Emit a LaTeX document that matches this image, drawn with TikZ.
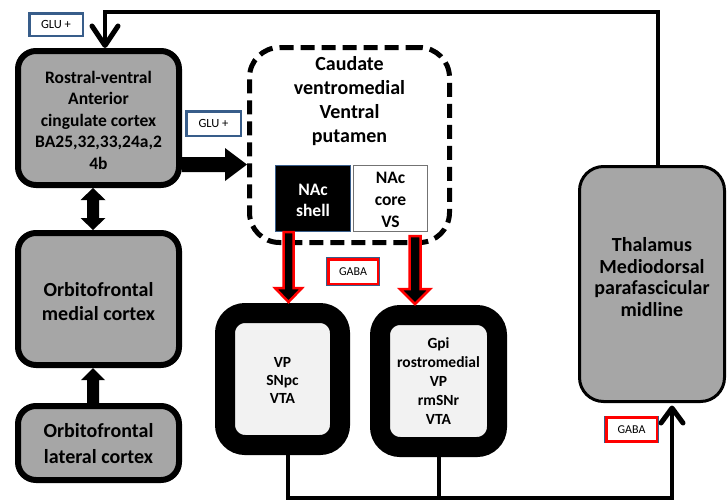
\documentclass[tikz,border=0pt]{standalone}
\usepackage{fontspec}
\setmainfont{Carlito}
\usetikzlibrary{calc}
\definecolor{boxgray}{HTML}{A6A6A6}
\definecolor{lightin}{HTML}{F2F2F2}
\definecolor{labblue}{HTML}{385D8A}
\newcommand\myfs[2]{\fontsize{#1}{#2}\selectfont}
\begin{document}
\begin{tikzpicture}[x=1pt,y=-1pt,
  region/.style={draw=black, line width=6pt, fill=boxgray, rounded corners=18pt, inner sep=0pt},
  txt/.style={align=center, inner sep=0pt},
  cage/.style={draw=black, line width=20pt, fill=lightin, rounded corners=20pt, inner sep=0pt, align=center},
  glulab/.style={draw=labblue, line width=2.5pt, fill=white, inner sep=0pt, font=\myfs{12.5}{14}},
  gabalab/.style={draw=red, line width=2.5pt, fill=white, inner sep=0pt, font=\myfs{12}{14},
     preaction={draw=labblue, line width=3.6pt}},
  blackfill/.style={fill=black, draw=none},
  redarr/.style={fill=black, draw=red, line width=2.5pt, line join=miter},
  fbline/.style={draw=black, line width=4pt, line join=miter},
  vtip/.style={draw=black, line width=5pt, line cap=round, line join=round}]
\useasboundingbox[fill=white] (0,0) rectangle (728,501);

% left column
\node[region, minimum width=161pt, minimum height=134pt] (A) at (98.5,118) {};
\node[txt, font=\myfs{17.5}{21.5}\bfseries] (Atext) at (98.5,120) {Rostral-ventral\\Anterior\\cingulate cortex\\BA25,32,33,24a,2\\4b};
\node[region, minimum width=161pt, minimum height=132pt] (B) at (98.5,299) {};
\node[txt, font=\myfs{20}{24}\bfseries] (Btext) at (98.5,301.5) {Orbitofrontal\\medial cortex};
\node[region, minimum width=161pt, minimum height=74pt] (C) at (98.5,443) {};
\node[txt, font=\myfs{20}{26}\bfseries] (Ctext) at (98.5,443.5) {Orbitofrontal\\lateral cortex};

% striatum
\node[draw=black, line width=5pt, dash pattern=on 14pt off 7pt, rounded corners=30pt,
      minimum width=200pt, minimum height=195pt, inner sep=0pt] (D) at (349.5,145) {};
\node[txt, font=\myfs{20}{24}\bfseries] (Dtext) at (349.5,101.5) {Caudate\\ventromedial\\Ventral\\putamen};
\node[draw=labblue, line width=1pt, fill=black, minimum width=75pt, minimum height=66pt, inner sep=0pt] (shell) at (313,198.5) {};
\node[txt, text=white, font=\myfs{17.5}{21}\bfseries] (shelltext) at (313,200) {NAc\\shell};
\node[draw=black!55, line width=1pt, fill=white, minimum width=74pt, minimum height=66pt, inner sep=0pt] (core) at (390.5,198.5) {};
\node[txt, font=\myfs{17.5}{22}\bfseries] (coretext) at (390.5,200) {NAc\\core\\VS};

% output nuclei
\node[cage, minimum width=115pt, minimum height=132pt] (VP) at (282.5,379) {};
\node[txt, font=\myfs{15.5}{18}\bfseries] (VPtext) at (282.5,380) {VP\\SNpc\\VTA};
\node[cage, minimum width=117pt, minimum height=132pt] (Gpi) at (438.5,381) {};
\node[txt, font=\myfs{15.5}{19}\bfseries] (Gpitext) at (438.5,381.5) {Gpi\\rostromedial\\VP\\rmSNr\\VTA};

% thalamus
\node[draw=black, line width=3pt, fill=boxgray, rounded corners=24pt, minimum width=145pt, minimum height=235pt, inner sep=0pt] (thal) at (652,284) {};
\node[txt, font=\myfs{20}{21.5}\bfseries] (thaltext) at (652,277) {Thalamus\\Mediodorsal\\parafascicular\\midline};

% labels
\node[glulab, minimum width=53.5pt, minimum height=22.5pt] (glu1) at (56,24.5) {GLU +};
\node[glulab, minimum width=54.5pt, minimum height=24.5pt] (glu2) at (213.5,123.5) {GLU +};
\node[gabalab, minimum width=49.5pt, minimum height=24.5pt] (gaba1) at (353,271.5) {GABA};
\node[gabalab, minimum width=50.5pt, minimum height=24pt] (gaba2) at (631.5,429.5) {GABA};

% A -> D
\path[blackfill] let \p1=(A.east |- 0,164.5), \p2=(D.west) in
  (\x1,\y1+7.5pt) -- (\x2-22pt,\y1+7.5pt) -- (\x2-22pt,\y1+16.5pt) -- (\x2,\y1)
  -- (\x2-22pt,\y1-16.5pt) -- (\x2-22pt,\y1-7.5pt) -- (\x1,\y1-7.5pt) -- cycle;
% A <-> B
\path[blackfill] let \p1=($(A.south)+(-5.5,0)$), \p2=($(B.north)+(-5.5,0)$) in
  (\x1,\y1) -- (\x1+12.5pt,\y1-12pt) -- (\x1+6pt,\y1-12pt) -- (\x1+6pt,\y2+12pt)
  -- (\x1+12.5pt,\y2+12pt) -- (\x1,\y2) -- (\x1-12.5pt,\y2+12pt) -- (\x1-6pt,\y2+12pt)
  -- (\x1-6pt,\y1-12pt) -- (\x1-12.5pt,\y1-12pt) -- cycle;
% C -> B
\path[blackfill] let \p1=($(C.north)+(-5.5,0)$), \p2=($(B.south)+(-5.5,0)$) in
  (\x1-6pt,\y1) -- (\x1-6pt,\y2-12pt) -- (\x1-12pt,\y2-12pt) -- (\x1,\y2)
  -- (\x1+12pt,\y2-12pt) -- (\x1+6pt,\y2-12pt) -- (\x1+6pt,\y1) -- cycle;

% shell -> VP, core -> Gpi
\draw[redarr] let \p1=($(shell.south)+(-24.5,0)$), \p2=(VP.north) in
  (\x1-5pt,\y1) -- (\x1-5pt,\y2+15pt) -- (\x1-13.5pt,\y2+15pt) -- (\x1,\y2+1pt)
  -- (\x1+13.5pt,\y2+15pt) -- (\x1+5pt,\y2+15pt) -- (\x1+5pt,\y1) -- cycle;
\draw[redarr] let \p1=($(core.south)+(24.5,4)$), \p2=(Gpi.north) in
  (\x1-5.5pt,\y1) -- (\x1-5.5pt,\y2+16pt) -- (\x1-15pt,\y2+16pt) -- (\x1,\y2+1pt)
  -- (\x1+15pt,\y2+16pt) -- (\x1+5.5pt,\y2+16pt) -- (\x1+5.5pt,\y1) -- cycle;

% feedback thalamus -> A
\coordinate (fbR) at ($(thal.north)+(6,0)$);
\coordinate (fbL) at ($(A.north)+(6.5,0)$);
\draw[fbline] (fbR) -- (fbR |- 0,12) -- (fbL |- 0,12) -- ($(fbL)+(0,-4)$);
\draw[vtip] ($(fbL)+(-13,-22)$) -- ($(fbL)+(0,-2.5)$) -- ($(fbL)+(13,-22)$);

% VP, Gpi -> thalamus
\coordinate (thtip) at ($(thal.south)+(20,5)$);
\coordinate (vpb) at ($(VP.south)+(5.5,0)$);
\draw[fbline] (vpb) -- (vpb |- 0,498) -- (thtip |- 0,498) -- (thtip);
\draw[fbline] (Gpi.south) -- (Gpi.south |- 0,498);
\draw[vtip] ($(thtip)+(-11,15)$) -- (thtip) -- ($(thtip)+(11,15)$);
\end{tikzpicture}
\end{document}
